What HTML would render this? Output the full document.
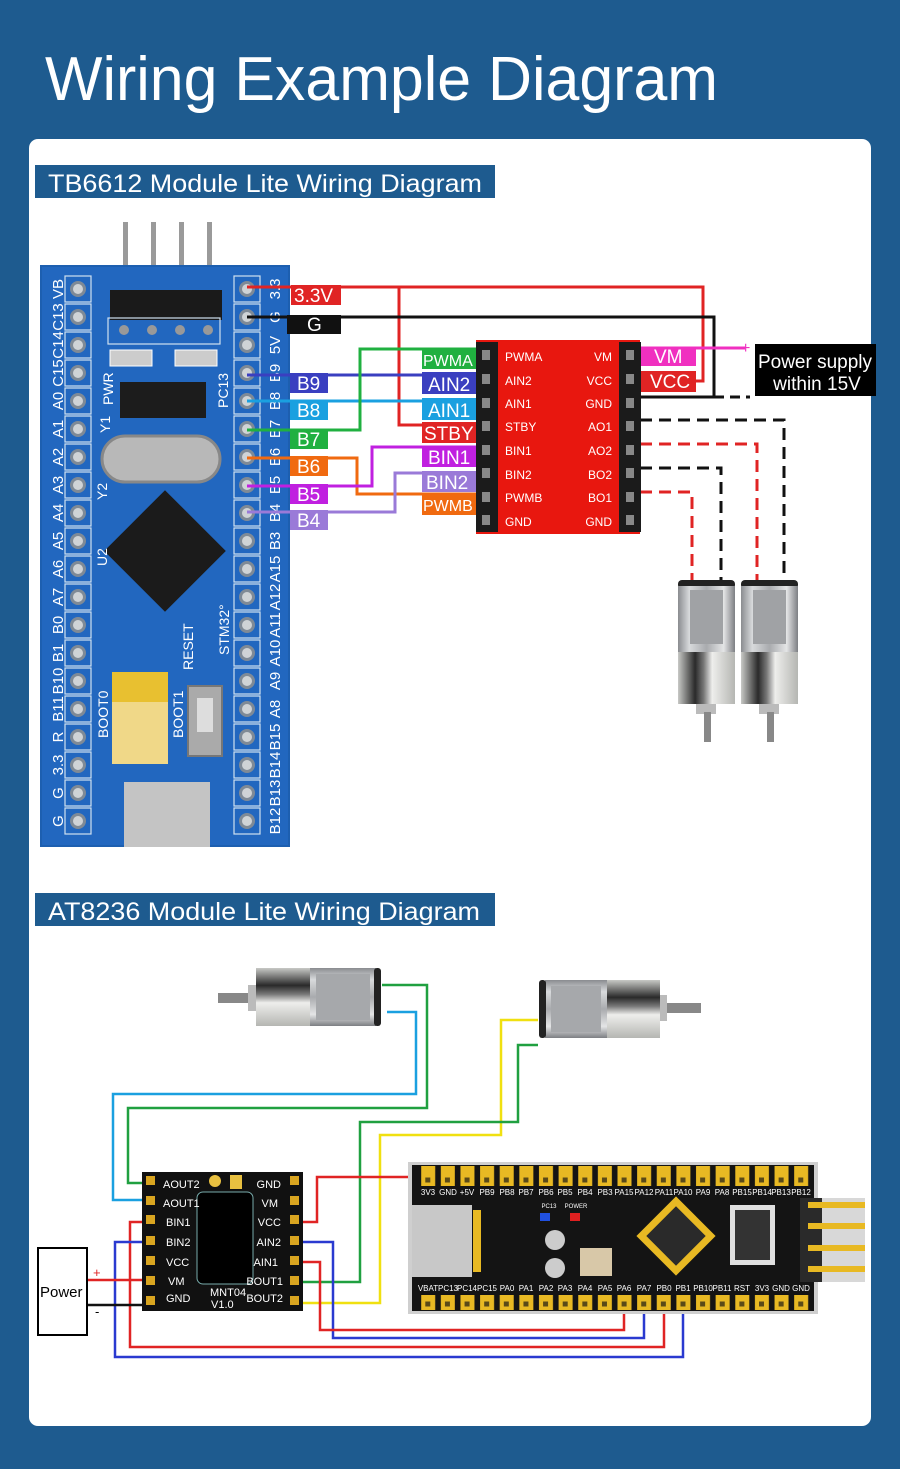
<!DOCTYPE html>
<html><head><meta charset="utf-8"><style>
html,body{margin:0;padding:0;background:#1e5b8f;}
svg{display:block;font-family:"Liberation Sans",sans-serif;}
</style></head><body>
<svg width="900" height="1469" viewBox="0 0 900 1469" xmlns="http://www.w3.org/2000/svg">
<defs>
<linearGradient id="can" x1="0" x2="1" y1="0" y2="0">
<stop offset="0" stop-color="#8a8c90"/><stop offset="0.2" stop-color="#d8dadc"/><stop offset="0.5" stop-color="#a9abae"/><stop offset="0.8" stop-color="#e4e5e6"/><stop offset="1" stop-color="#7d7f83"/></linearGradient>
<linearGradient id="gear" x1="0" x2="1" y1="0" y2="0">
<stop offset="0" stop-color="#c8c9c6"/><stop offset="0.3" stop-color="#2a2a2a"/><stop offset="0.45" stop-color="#777"/><stop offset="0.6" stop-color="#eeeeec"/><stop offset="1" stop-color="#b5b6b2"/></linearGradient>
<linearGradient id="canH" x1="0" x2="0" y1="0" y2="1">
<stop offset="0" stop-color="#8a8c90"/><stop offset="0.2" stop-color="#d8dadc"/><stop offset="0.5" stop-color="#a9abae"/><stop offset="0.8" stop-color="#e4e5e6"/><stop offset="1" stop-color="#7d7f83"/></linearGradient>
<linearGradient id="gearH" x1="0" x2="0" y1="0" y2="1">
<stop offset="0" stop-color="#c8c9c6"/><stop offset="0.3" stop-color="#2a2a2a"/><stop offset="0.45" stop-color="#777"/><stop offset="0.6" stop-color="#eeeeec"/><stop offset="1" stop-color="#b5b6b2"/></linearGradient>
<pattern id="bpins" x="64" y="275" width="28" height="28" patternUnits="userSpaceOnUse">
<rect x="1" y="1" width="26" height="26" fill="none" stroke="#cfe0f0" stroke-width="1.2"/>
<circle cx="14" cy="14" r="8" fill="#7f8a96"/><circle cx="14" cy="14" r="5" fill="#cfd3d6"/></pattern>
<pattern id="bpinsR" x="233" y="275" width="28" height="28" patternUnits="userSpaceOnUse">
<rect x="1" y="1" width="26" height="26" fill="none" stroke="#cfe0f0" stroke-width="1.2"/>
<circle cx="14" cy="14" r="8" fill="#7f8a96"/><circle cx="14" cy="14" r="5" fill="#cfd3d6"/></pattern>
<pattern id="ypins" x="418.2" y="0" width="19.63" height="400" patternUnits="userSpaceOnUse">
<rect x="3" y="0" width="14" height="400" fill="#e8b923"/></pattern>
</defs>
<rect width="900" height="1469" fill="#1e5b8f"/>
<text x="45" y="100" font-size="62" fill="#fff" textLength="673" lengthAdjust="spacingAndGlyphs">Wiring Example Diagram</text>
<rect x="29" y="139" width="842" height="1287" rx="9" fill="#fff"/>
<rect x="35" y="165" width="460" height="33" fill="#1e5b8f"/>
<text x="48" y="192" font-size="25" fill="#fff" textLength="434" lengthAdjust="spacingAndGlyphs">TB6612 Module Lite Wiring Diagram</text>
<rect x="35" y="893" width="460" height="33" fill="#1e5b8f"/>
<text x="48" y="920" font-size="25" fill="#fff" textLength="432" lengthAdjust="spacingAndGlyphs">AT8236 Module Lite Wiring Diagram</text>

<!-- Blue pill -->
<g>
<rect x="123" y="222" width="5" height="90" fill="#9a9a9a"/><rect x="151" y="222" width="5" height="90" fill="#9a9a9a"/>
<rect x="179" y="222" width="5" height="90" fill="#9a9a9a"/><rect x="207" y="222" width="5" height="90" fill="#9a9a9a"/>
<rect x="40" y="265" width="250" height="582" fill="#1d5fb0"/>
<rect x="42" y="267" width="246" height="578" fill="#2267bf"/>
<rect x="64" y="275" width="28" height="560" fill="url(#bpins)"/>
<rect x="233" y="275" width="28" height="560" fill="url(#bpinsR)"/>
<rect x="110" y="290" width="112" height="30" fill="#1a1a1a"/>
<rect x="108" y="318" width="112" height="26" fill="none" stroke="#cfe0f0" stroke-width="1.2"/>
<circle cx="124" cy="330" r="5" fill="#999"/><circle cx="152" cy="330" r="5" fill="#999"/><circle cx="180" cy="330" r="5" fill="#999"/><circle cx="208" cy="330" r="5" fill="#999"/>
<rect x="110" y="350" width="42" height="16" fill="#ccc" stroke="#fff"/><rect x="175" y="350" width="42" height="16" fill="#ccc" stroke="#fff"/>
<rect x="120" y="382" width="86" height="36" fill="#1c1c1c"/>
<rect x="102" y="436" width="118" height="46" rx="23" fill="#b8b8b8" stroke="#888" stroke-width="3"/>
<rect x="122" y="508" width="86" height="86" fill="#1b1b1b" transform="rotate(45 165 551)"/>
<rect x="112" y="672" width="56" height="92" fill="#f0d888"/><rect x="112" y="672" width="56" height="30" fill="#e8c030"/>
<rect x="188" y="686" width="34" height="70" fill="#aaa" stroke="#777" stroke-width="2"/><rect x="197" y="698" width="16" height="34" fill="#ddd"/>
<rect x="124" y="782" width="86" height="65" fill="#c4c4c4"/>
<g font-size="14" fill="#fff">
<text transform="translate(113,405) rotate(-90)">PWR</text>
<text transform="translate(228,408) rotate(-90)">PC13</text>
<text transform="translate(110,433) rotate(-90)">Y1</text>
<text transform="translate(107,500) rotate(-90)">Y2</text>
<text transform="translate(107,566) rotate(-90)">U2</text>
<text transform="translate(229,655) rotate(-90)">STM32°</text>
<text transform="translate(193,670) rotate(-90)">RESET</text>
<text transform="translate(108,738) rotate(-90)">BOOT0</text>
<text transform="translate(183,738) rotate(-90)">BOOT1</text>
</g>
<g font-size="15" fill="#fff" text-anchor="middle">
<text transform="translate(63,289) rotate(-90)">VB</text>
<text transform="translate(63,317) rotate(-90)">C13</text>
<text transform="translate(63,345) rotate(-90)">C14</text>
<text transform="translate(63,373) rotate(-90)">C15</text>
<text transform="translate(63,401) rotate(-90)">A0</text>
<text transform="translate(63,429) rotate(-90)">A1</text>
<text transform="translate(63,457) rotate(-90)">A2</text>
<text transform="translate(63,485) rotate(-90)">A3</text>
<text transform="translate(63,513) rotate(-90)">A4</text>
<text transform="translate(63,541) rotate(-90)">A5</text>
<text transform="translate(63,569) rotate(-90)">A6</text>
<text transform="translate(63,597) rotate(-90)">A7</text>
<text transform="translate(63,625) rotate(-90)">B0</text>
<text transform="translate(63,653) rotate(-90)">B1</text>
<text transform="translate(63,681) rotate(-90)">B10</text>
<text transform="translate(63,709) rotate(-90)">B11</text>
<text transform="translate(63,737) rotate(-90)">R</text>
<text transform="translate(63,765) rotate(-90)">3.3</text>
<text transform="translate(63,793) rotate(-90)">G</text>
<text transform="translate(63,821) rotate(-90)">G</text>
<text transform="translate(280,289) rotate(-90)">3.3</text>
<text transform="translate(280,317) rotate(-90)">G</text>
<text transform="translate(280,345) rotate(-90)">5V</text>
<text transform="translate(280,373) rotate(-90)">B9</text>
<text transform="translate(280,401) rotate(-90)">B8</text>
<text transform="translate(280,429) rotate(-90)">B7</text>
<text transform="translate(280,457) rotate(-90)">B6</text>
<text transform="translate(280,485) rotate(-90)">B5</text>
<text transform="translate(280,513) rotate(-90)">B4</text>
<text transform="translate(280,541) rotate(-90)">B3</text>
<text transform="translate(280,569) rotate(-90)">A15</text>
<text transform="translate(280,597) rotate(-90)">A12</text>
<text transform="translate(280,625) rotate(-90)">A11</text>
<text transform="translate(280,653) rotate(-90)">A10</text>
<text transform="translate(280,681) rotate(-90)">A9</text>
<text transform="translate(280,709) rotate(-90)">A8</text>
<text transform="translate(280,737) rotate(-90)">B15</text>
<text transform="translate(280,765) rotate(-90)">B14</text>
<text transform="translate(280,793) rotate(-90)">B13</text>
<text transform="translate(280,821) rotate(-90)">B12</text>
</g>
</g>

<!-- TB6612 wires -->
<g fill="none" stroke-width="3">
<polyline points="247,287 703,287 703,381 640,381" stroke="#e02424"/>
<polyline points="399,287 399,425 486,425" stroke="#e02424"/>
<polyline points="247,317 714,317 714,397 640,397" stroke="#111"/>
<line x1="714" y1="397" x2="750" y2="397" stroke="#111" stroke-dasharray="10,6"/>
<polyline points="640,348 745,348" stroke="#f030c0"/>
<polyline points="247,375 486,375" stroke="#3a3fc0"/>
<polyline points="247,401 486,401" stroke="#1aa0e0"/>
<polyline points="247,430 360,430 360,349 486,349" stroke="#20b040"/>
<polyline points="247,458 357,458 357,494 486,494" stroke="#f06a10"/>
<polyline points="247,486 372,486 372,447 486,447" stroke="#c020e0"/>
<polyline points="247,512 395,512 395,473 486,473" stroke="#9a7ad8"/>
<g stroke-dasharray="12,7">
<polyline points="640,420 784,420 784,585" stroke="#111"/>
<polyline points="640,444 757,444 757,582" stroke="#e02424"/>
<polyline points="640,468 721,468 721,582" stroke="#111"/>
<polyline points="640,492 692,492 692,582" stroke="#e02424"/>
</g>
</g>
<text x="741" y="353" font-size="16" fill="#f030c0">+</text>
<g font-size="19" fill="#fff">
<rect x="291" y="285" width="50" height="20" fill="#e02424"/><text x="294" y="302">3.3V</text>
<rect x="287" y="315" width="54" height="19" fill="#111"/><text x="307" y="331">G</text>
<rect x="290" y="373" width="38" height="20" fill="#3a3fc0"/><text x="297" y="390">B9</text>
<rect x="290" y="400" width="38" height="20" fill="#1aa0e0"/><text x="297" y="417">B8</text>
<rect x="290" y="429" width="38" height="20" fill="#20b040"/><text x="297" y="446">B7</text>
<rect x="290" y="456" width="38" height="20" fill="#f06a10"/><text x="297" y="473">B6</text>
<rect x="290" y="484" width="38" height="20" fill="#c020e0"/><text x="297" y="501">B5</text>
<rect x="290" y="510" width="38" height="20" fill="#9a7ad8"/><text x="297" y="527">B4</text>
<rect x="422" y="350" width="54" height="19" fill="#20b040"/><text x="423" y="366" font-size="16">PWMA</text>
<rect x="422" y="372" width="54" height="22" fill="#3a3fc0"/><text x="428" y="391">AIN2</text>
<rect x="422" y="398" width="54" height="22" fill="#1aa0e0"/><text x="428" y="417">AIN1</text>
<rect x="422" y="422" width="54" height="21" fill="#e02424"/><text x="424" y="440">STBY</text>
<rect x="422" y="446" width="54" height="21" fill="#c020e0"/><text x="428" y="464">BIN1</text>
<rect x="422" y="471" width="54" height="21" fill="#9a7ad8"/><text x="426" y="489">BIN2</text>
<rect x="422" y="495" width="54" height="20" fill="#f06a10"/><text x="423" y="511" font-size="16">PWMB</text>
<rect x="640" y="347" width="56" height="19" fill="#f030c0"/><text x="654" y="363">VM</text>
<rect x="640" y="371" width="56" height="21" fill="#e02424"/><text x="650" y="388">VCC</text>
</g>
<!-- TB6612 module -->
<rect x="476" y="340" width="164" height="194" fill="#e8170f"/>
<rect x="476" y="342" width="22" height="190" fill="#1b1b1b"/>
<rect x="619" y="342" width="22" height="190" fill="#1b1b1b"/>
<g fill="#888">
<rect x="482" y="350" width="8" height="10"/><rect x="482" y="374" width="8" height="10"/><rect x="482" y="398" width="8" height="10"/><rect x="482" y="421" width="8" height="10"/><rect x="482" y="445" width="8" height="10"/><rect x="482" y="468" width="8" height="10"/><rect x="482" y="492" width="8" height="10"/><rect x="482" y="515" width="8" height="10"/>
<rect x="626" y="350" width="8" height="10"/><rect x="626" y="374" width="8" height="10"/><rect x="626" y="398" width="8" height="10"/><rect x="626" y="421" width="8" height="10"/><rect x="626" y="445" width="8" height="10"/><rect x="626" y="468" width="8" height="10"/><rect x="626" y="492" width="8" height="10"/><rect x="626" y="515" width="8" height="10"/>
</g>
<g font-size="12" fill="#fff">
<text x="505" y="361">PWMA</text><text x="505" y="385">AIN2</text><text x="505" y="408">AIN1</text><text x="505" y="431">STBY</text><text x="505" y="455">BIN1</text><text x="505" y="479">BIN2</text><text x="505" y="502">PWMB</text><text x="505" y="526">GND</text>
<g text-anchor="end"><text x="612" y="361">VM</text><text x="612" y="385">VCC</text><text x="612" y="408">GND</text><text x="612" y="431">AO1</text><text x="612" y="455">AO2</text><text x="612" y="479">BO2</text><text x="612" y="502">BO1</text><text x="612" y="526">GND</text></g>
</g>
<rect x="755" y="344" width="121" height="52" fill="#000"/>
<text x="815" y="368" font-size="19" fill="#fff" text-anchor="middle">Power supply</text>
<text x="817" y="390" font-size="19" fill="#fff" text-anchor="middle">within 15V</text>
<!-- vertical motors -->
<g>
<rect x="678" y="580" width="57" height="9" rx="4" fill="#222"/><rect x="678" y="586" width="57" height="68" fill="url(#can)"/><rect x="690" y="590" width="33" height="54" fill="#a0a2a5"/>
<rect x="678" y="652" width="57" height="52" fill="url(#gear)"/><rect x="696" y="704" width="20" height="10" fill="#bbb"/><rect x="704" y="712" width="7" height="30" fill="#888"/>
<rect x="741" y="580" width="57" height="9" rx="4" fill="#222"/><rect x="741" y="586" width="57" height="68" fill="url(#can)"/><rect x="753" y="590" width="33" height="54" fill="#a0a2a5"/>
<rect x="741" y="652" width="57" height="52" fill="url(#gear)"/><rect x="759" y="704" width="20" height="10" fill="#bbb"/><rect x="767" y="712" width="7" height="30" fill="#888"/>
</g>

<!-- bottom motors -->
<rect x="218" y="993" width="38" height="10" fill="#888"/>
<rect x="248" y="985" width="12" height="26" fill="#bbb"/>
<rect x="256" y="968" width="56" height="58" fill="url(#gearH)"/>
<rect x="310" y="968" width="66" height="58" fill="url(#canH)"/>
<rect x="316" y="974" width="54" height="46" fill="#a6a8ab"/>
<rect x="374" y="968" width="7" height="58" rx="3" fill="#222"/>
<rect x="661" y="1003" width="40" height="10" fill="#888"/>
<rect x="655" y="995" width="12" height="26" fill="#bbb"/>
<rect x="604" y="980" width="56" height="58" fill="url(#gearH)"/>
<rect x="545" y="980" width="62" height="58" fill="url(#canH)"/>
<rect x="551" y="986" width="50" height="46" fill="#a6a8ab"/>
<rect x="539" y="980" width="7" height="58" rx="3" fill="#222"/>

<!-- bottom wires -->
<g fill="none" stroke-width="2.5">
<polyline points="382,985 427,985 427,1108 128,1108 128,1183 150,1183" stroke="#20a040"/>
<polyline points="387,1012 416,1012 416,1094 113,1094 113,1200 150,1200" stroke="#1aa0e0"/>
<polyline points="538,1020 530,1020 501,1020 501,1135 380,1135 380,1303 295,1303" stroke="#f0e010"/>
<polyline points="538,1045 518,1045 518,1122 360,1122 360,1282 295,1282" stroke="#20a040"/>
<polyline points="295,1222 317,1222 317,1177 430,1177 430,1182" stroke="#e02424"/>
<polyline points="295,1242 333,1242 333,1338 644,1338 644,1300" stroke="#2a3ad0"/>
<polyline points="295,1262 320,1262 320,1330 624,1330 624,1300" stroke="#e02424"/>
<polyline points="150,1222 130,1222 130,1347 664,1347 664,1300" stroke="#e02424"/>
<polyline points="150,1242 115,1242 115,1357 683,1357 683,1300" stroke="#2a3ad0"/>
<polyline points="87,1280 150,1280" stroke="#e02424"/>
<polyline points="87,1305 150,1305" stroke="#111"/>
</g>
<rect x="38" y="1248" width="49" height="87" fill="#fff" stroke="#000" stroke-width="2"/>
<text x="40" y="1297" font-size="15" fill="#000">Power</text>
<text x="93" y="1277" font-size="13" fill="#e02424">+</text>
<text x="95" y="1316" font-size="13" fill="#000">-</text>

<!-- AT8236 -->
<rect x="142" y="1172" width="161" height="139" fill="#111"/>
<g fill="#d9a520">
<rect x="146" y="1176" width="9" height="9"/><rect x="146" y="1196" width="9" height="9"/><rect x="146" y="1215" width="9" height="9"/><rect x="146" y="1236" width="9" height="9"/><rect x="146" y="1256" width="9" height="9"/><rect x="146" y="1276" width="9" height="9"/><rect x="146" y="1296" width="9" height="9"/>
<rect x="290" y="1176" width="9" height="9"/><rect x="290" y="1196" width="9" height="9"/><rect x="290" y="1215" width="9" height="9"/><rect x="290" y="1236" width="9" height="9"/><rect x="290" y="1256" width="9" height="9"/><rect x="290" y="1276" width="9" height="9"/><rect x="290" y="1296" width="9" height="9"/>
</g>
<rect x="197" y="1192" width="56" height="92" rx="6" fill="#000" stroke="#7aa" stroke-width="1"/>
<circle cx="215" cy="1181" r="6" fill="#e8c040"/><rect x="230" y="1175" width="12" height="14" fill="#e8c040"/>
<g font-size="11" fill="#fff">
<text x="163" y="1188">AOUT2</text><text x="163" y="1207">AOUT1</text><text x="166" y="1226">BIN1</text><text x="166" y="1246">BIN2</text><text x="166" y="1266">VCC</text><text x="168" y="1285">VM</text><text x="166" y="1302">GND</text>
<g text-anchor="end"><text x="281" y="1188">GND</text><text x="278" y="1207">VM</text><text x="281" y="1226">VCC</text><text x="281" y="1246">AIN2</text><text x="278" y="1266">AIN1</text><text x="283" y="1285">BOUT1</text><text x="283" y="1302">BOUT2</text></g>
<text x="210" y="1296">MNT04</text><text x="211" y="1308">V1.0</text>
</g>

<!-- black pill -->
<rect x="408" y="1162" width="410" height="152" fill="#cfcfcf"/>
<rect x="412" y="1165" width="402" height="146" fill="#141414"/>
<rect x="418" y="1166" width="393" height="20" fill="url(#ypins)"/>
<rect x="418" y="1295" width="393" height="15" fill="url(#ypins)"/>
<line x1="418" y1="1180" x2="811" y2="1180" stroke="#5a4a18" stroke-width="5" stroke-dasharray="5,14.63" stroke-dashoffset="-7.3"/>
<line x1="418" y1="1304" x2="811" y2="1304" stroke="#5a4a18" stroke-width="5" stroke-dasharray="5,14.63" stroke-dashoffset="-7.3"/>
<rect x="800" y="1198" width="65" height="84" fill="#d8d8d8"/>
<rect x="800" y="1198" width="22" height="84" fill="#2a2a2a"/>
<rect x="808" y="1202" width="57" height="6" fill="#e8b923"/><rect x="808" y="1223" width="57" height="6" fill="#e8b923"/><rect x="808" y="1245" width="57" height="6" fill="#e8b923"/><rect x="808" y="1266" width="57" height="6" fill="#e8b923"/>
<rect x="412" y="1205" width="60" height="72" fill="#c8c8c8"/>
<rect x="473" y="1210" width="8" height="62" fill="#e8b923"/>
<rect x="648" y="1208" width="56" height="56" fill="#e8b923" transform="rotate(45 676 1236)"/>
<rect x="655" y="1215" width="42" height="42" fill="#2a2a2a" transform="rotate(45 676 1236)"/>
<rect x="730" y="1205" width="45" height="60" fill="#e0e0e0"/><rect x="735" y="1210" width="35" height="50" fill="#333"/>
<circle cx="555" cy="1240" r="10" fill="#ccc"/><circle cx="555" cy="1268" r="10" fill="#ccc"/>
<rect x="580" y="1248" width="32" height="28" fill="#d8c8a8"/>
<rect x="540" y="1213" width="10" height="8" fill="#2050e0"/><rect x="570" y="1213" width="10" height="8" fill="#e02020"/>
<g font-size="8" fill="#fff" text-anchor="middle">
<text x="428" y="1195">3V3</text><text x="448" y="1195">GND</text><text x="467" y="1195">+5V</text><text x="487" y="1195">PB9</text><text x="507" y="1195">PB8</text><text x="526" y="1195">PB7</text><text x="546" y="1195">PB6</text><text x="565" y="1195">PB5</text><text x="585" y="1195">PB4</text><text x="605" y="1195">PB3</text><text x="624" y="1195">PA15</text><text x="644" y="1195">PA12</text><text x="664" y="1195">PA11</text><text x="683" y="1195">PA10</text><text x="703" y="1195">PA9</text><text x="722" y="1195">PA8</text><text x="742" y="1195">PB15</text><text x="762" y="1195">PB14</text><text x="781" y="1195">PB13</text><text x="801" y="1195">PB12</text>
<text x="428" y="1291">VBAT</text><text x="448" y="1291">PC13</text><text x="467" y="1291">PC14</text><text x="487" y="1291">PC15</text><text x="507" y="1291">PA0</text><text x="526" y="1291">PA1</text><text x="546" y="1291">PA2</text><text x="565" y="1291">PA3</text><text x="585" y="1291">PA4</text><text x="605" y="1291">PA5</text><text x="624" y="1291">PA6</text><text x="644" y="1291">PA7</text><text x="664" y="1291">PB0</text><text x="683" y="1291">PB1</text><text x="703" y="1291">PB10</text><text x="722" y="1291">PB11</text><text x="742" y="1291">RST</text><text x="762" y="1291">3V3</text><text x="781" y="1291">GND</text><text x="801" y="1291">GND</text>
<text x="549" y="1208" font-size="6">PC13</text><text x="576" y="1208" font-size="6">POWER</text>
</g>
</svg>
</body></html>
